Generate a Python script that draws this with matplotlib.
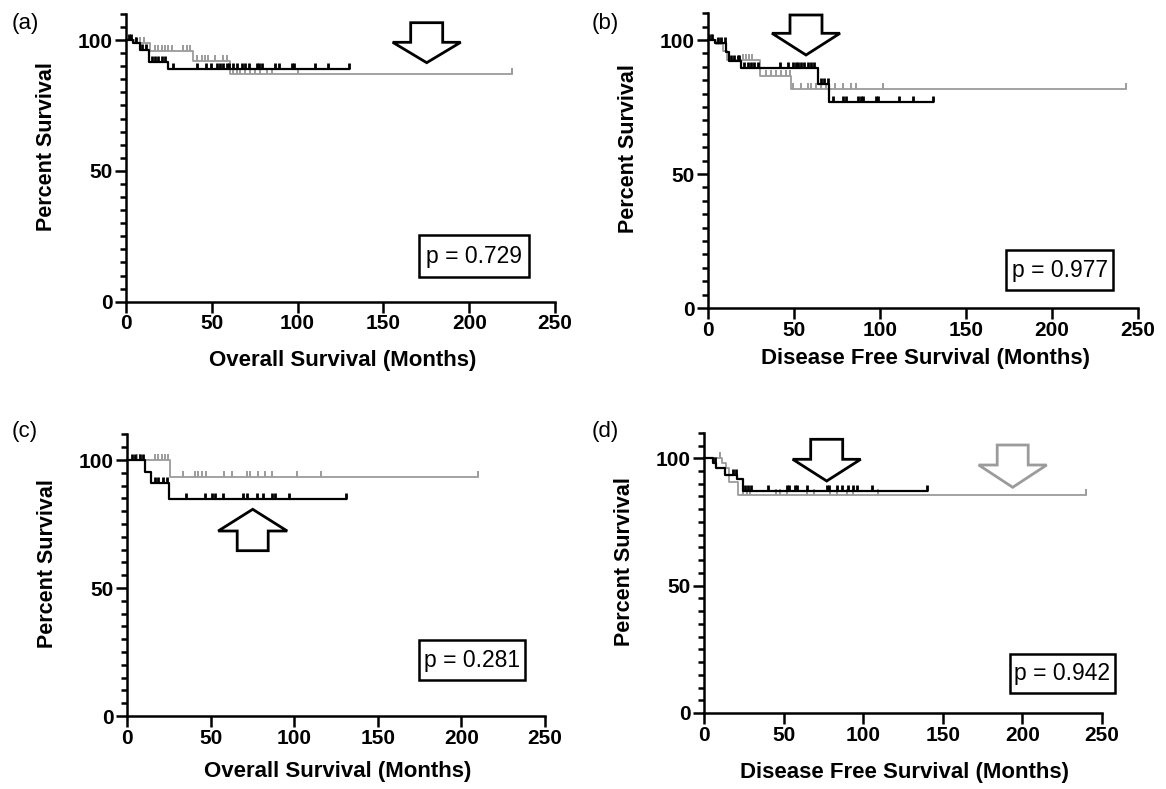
# Kaplan-Meier panels (a)-(d), GraphPad-like style
import numpy as np
import matplotlib
matplotlib.use('Agg')
import matplotlib.pyplot as plt
from matplotlib.patches import Polygon, Rectangle
from matplotlib.markers import MarkerStyle

plt.rcParams['font.family'] = ['Liberation Sans', 'DejaVu Sans']

W, H = 1166, 789
BLACK = '#000000'
GREY = '#9b9b9b'

# ---- data: step times, survival after each step, last follow-up, censor times ----
# (a) overall survival
a_black_t = [0, 4.3, 8.2, 13.6, 24.7]
a_black_s = [100, 98.7, 96.2, 91.7, 88.9]
a_black_end = 130
a_black_cens = [1.5, 2.9, 5.8, 9.5, 11.5, 15, 16.9, 18.8, 20.8, 22.7, 27.2, 41.2, 46.6,
                49.3, 52.8, 54.8, 56.7, 58.7, 60.2, 62.5, 64.5, 67.4, 69.3, 71.9, 76.2,
                77.7, 79, 86.8, 89.3, 96.5, 97.9, 110, 117.9, 130]
a_grey_t = [0, 5.2, 14, 39.2, 60.6]
a_grey_s = [100, 98.7, 95.9, 92.1, 87.0]
a_grey_end = 225
a_grey_cens = [6, 8, 10.5, 16.9, 18.8, 20.8, 22.7, 24.7, 26.6, 33.4, 35.4, 37.3, 41.2,
               44.1, 46, 48, 51.9, 56.7, 58.7, 62.5, 64.5, 66.4, 69.3, 72.3, 75.2, 78.1,
               82, 84.9, 100.4, 225]

# (b) disease free survival
b_black_t = [0, 4, 10.5, 12, 19.3, 63.9, 70.5]
b_black_s = [100, 98.8, 95.6, 92.1, 89.4, 83.7, 76.9]
b_black_end = 131
b_black_cens = [0.8, 2.5, 5.7, 7.7, 9.6, 13.5, 15.4, 17.3, 18.3, 21.2, 23.1, 25.1, 27, 29,
                41.6, 46.4, 49.3, 50.9, 52.2, 54.2, 56.1, 58, 60, 61.9, 65.8, 67.7, 69.7,
                72.6, 78.4, 80.3, 87.1, 89.1, 90, 97.8, 98.7, 111.3, 119.1, 131]
b_grey_t = [0, 4.5, 9, 11, 30, 48.5]
b_grey_s = [100, 98.5, 96, 92.5, 86.6, 81.6]
b_grey_end = 243
b_grey_cens = [2.5, 5.7, 7.7, 20.2, 22.2, 24.1, 25.7, 33.8, 36.7, 39.7, 42.6, 45.5, 47.4,
               49.3, 54.2, 58, 60, 62.9, 65.8, 68.7, 73.6, 78.4, 83.3, 86.2, 101.7, 243]

# (c) overall survival
c_black_t = [0, 10.8, 14.4, 25.1]
c_black_s = [100, 95.4, 91.1, 84.6]
c_black_end = 131
c_black_cens = [2.8, 4.8, 7.8, 9.8, 16.7, 18.7, 21.7, 23.7, 35.3, 46.7, 50.6, 52.6, 57.6,
                69.6, 71.6, 77.6, 81.5, 86.5, 88.5, 97.1, 131]
c_grey_t = [0, 25.7]
c_grey_s = [100, 93.5]
c_grey_end = 210
c_grey_cens = [5.8, 7.8, 16.7, 18.7, 20.7, 22.7, 24.7, 33.3, 40.7, 42.6, 44.6, 47.2, 58,
               62.6, 71.6, 73.6, 78.5, 82.5, 86.5, 101.5, 115.8, 210]

# (d) disease free survival
d_black_t = [0, 5.9, 7.5, 13.2, 20.5, 24.3]
d_black_s = [100, 98.3, 96.1, 93.4, 91.8, 87.2]
d_black_end = 140
d_black_cens = [6.9, 18.4, 20.1, 25.8, 27.9, 29.4, 40.5, 52, 53.7, 57.2, 58.7, 64.6, 77.1,
                78.8, 83.4, 86.5, 90.7, 93.9, 96, 105.4, 140]
d_grey_t = [0, 11.1, 13.8, 15.9, 21.6]
d_grey_s = [100, 98, 96.1, 90.8, 85.6]
d_grey_end = 240
d_grey_cens = [10, 24.7, 26.8, 28.9, 45.3, 47.8, 52.4, 64.6, 68.8, 79.2, 83.4, 89.7, 93.9,
               109.6, 240]

p_values = ['p = 0.729', 'p = 0.977', 'p = 0.281', 'p = 0.942']
panel_tags = ['(a)', '(b)', '(c)', '(d)']
x_titles = ['Overall Survival (Months)', 'Disease Free Survival (Months)',
            'Overall Survival (Months)', 'Disease Free Survival (Months)']

curves = [
    ((a_black_t, a_black_s, a_black_end, a_black_cens), (a_grey_t, a_grey_s, a_grey_end, a_grey_cens)),
    ((b_black_t, b_black_s, b_black_end, b_black_cens), (b_grey_t, b_grey_s, b_grey_end, b_grey_cens)),
    ((c_black_t, c_black_s, c_black_end, c_black_cens), (c_grey_t, c_grey_s, c_grey_end, c_grey_cens)),
    ((d_black_t, d_black_s, d_black_end, d_black_cens), (d_grey_t, d_grey_s, d_grey_end, d_grey_cens)),
]

# ---- layout in pixels ----
# axes: left, right (x=250), y of 0%, y of 110%
axes_px = [(126, 555, 301.7, 13.9), (708, 1138, 308, 13.2),
           (127, 545, 716, 434.4), (704, 1102, 713, 432.8)]
xlab_y = [-0.168, -0.136, -0.16, -0.175]
tag_px = [(12, 13), (592, 13), (12, 421), (592, 421)]
pbox_px = [(419, 529, 235, 277), (1006, 1113, 250, 290),
           (419, 525, 640, 680), (1010, 1115, 654, 693)]
# arrows: centre x, tail y, tip y, head base y, shaft half width, head half width, colour
arrows_px = [(426.7, 22.7, 62.7, 42.3, 16, 34, BLACK),
             (806, 15, 55, 33.3, 16, 34, BLACK),
             (252.7, 550.7, 509.3, 531, 15.5, 34.5, BLACK),
             (826.7, 439.3, 481, 459.3, 16, 34, BLACK),
             (1012.7, 445, 487.3, 465, 15.5, 34, GREY)]


def fx(x):
    return x / W


def fy(y):
    return 1 - y / H


tick_mark = MarkerStyle([(0, 0), (0, 1)])

fig = plt.figure(figsize=(W / 100, H / 100), dpi=100)

for i in range(4):
    l, r, y0, ytop = axes_px[i]
    ax = fig.add_axes([fx(l), fy(y0), (r - l) / W, (y0 - ytop) / H])
    ax.set_xlim(0, 250)
    ax.set_ylim(0, 110)

    for (t, s, end, cens), col, lw, mew in zip(curves[i], [BLACK, GREY], [1.6, 1.3], [2.0, 1.4]):
        t = np.array(t, dtype=float)
        s = np.array(s, dtype=float)
        z = 3 if col == BLACK else 2
        ax.step(np.r_[t, end], np.r_[s, s[-1]], where='post', color=col, lw=lw,
                zorder=z, clip_on=False)
        cens = np.array(cens, dtype=float)
        cy = s[np.searchsorted(t, cens, side='right') - 1]
        ax.plot(cens, cy, ls='none', marker=tick_mark, ms=8, mew=mew, mec=col,
                zorder=z, clip_on=False)

    for side in ['top', 'right']:
        ax.spines[side].set_visible(False)
    for side in ['left', 'bottom']:
        ax.spines[side].set_linewidth(1.8)
    ax.set_xticks(np.arange(0, 251, 50))
    ax.set_yticks([0, 50, 100])
    ax.set_yticks(np.arange(0, 111, 5), minor=True)
    ax.tick_params(axis='both', which='major', length=7.7, width=1.8, labelsize=15)
    ax.tick_params(axis='x', which='major', pad=1.5)
    ax.tick_params(axis='y', which='major', pad=2)
    ax.tick_params(axis='y', which='minor', length=4, width=1.8)
    for lab in ax.get_xticklabels() + ax.get_yticklabels():
        lab.set_fontweight('bold')

    ax.set_ylabel('Percent Survival', fontsize=15.5, fontweight='bold')
    ax.yaxis.set_label_coords(-69 / (r - l), 0.54)
    ax.set_xlabel(x_titles[i], fontsize=16, fontweight='bold')
    ax.xaxis.set_label_coords(0.505, xlab_y[i])

    # panel tag
    tx, ty = tag_px[i]
    fig.text(fx(tx), fy(ty), panel_tags[i], fontsize=16, ha='left', va='top')

    # p value box
    bx0, bx1, by0, by1 = pbox_px[i]
    fig.add_artist(Rectangle((fx(bx0), fy(by1)), (bx1 - bx0) / W, (by1 - by0) / H,
                             transform=fig.transFigure, fill=False, ec='black', lw=1.8))
    fig.text(fx((bx0 + bx1) / 2), fy((by0 + by1) / 2), p_values[i], fontsize=16.5,
             ha='center', va='center')

# block arrows
for cx, yt, yp, yh, sw, hw, col in arrows_px:
    pts = [(cx - sw, yt), (cx + sw, yt), (cx + sw, yh), (cx + hw, yh), (cx, yp),
           (cx - hw, yh), (cx - sw, yh)]
    pts = [(fx(x), fy(y)) for x, y in pts]
    fig.add_artist(Polygon(pts, closed=True, transform=fig.transFigure, fc='white',
                           ec=col, lw=2.0, joinstyle='miter'))

fig.savefig('out.png', dpi=100)
